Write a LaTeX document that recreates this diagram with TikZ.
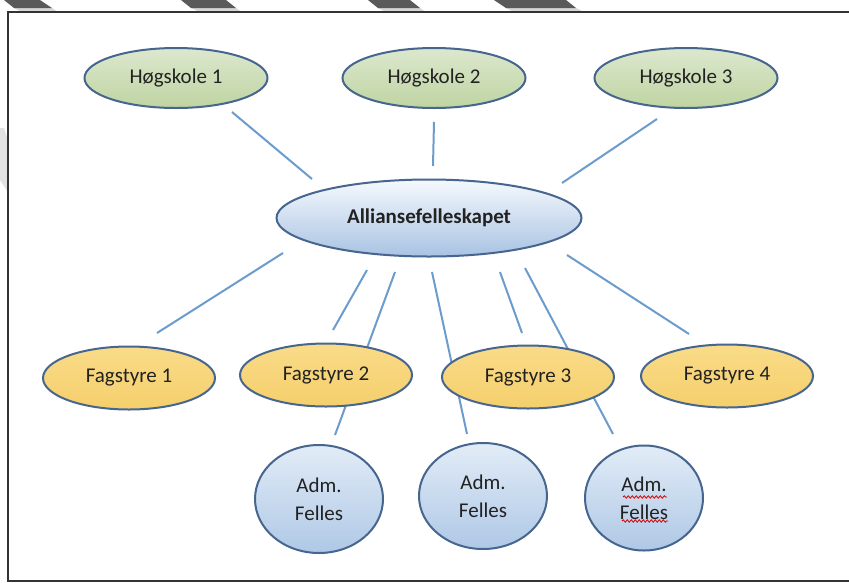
\documentclass[tikz,border=0pt]{standalone}
\usepackage{fontspec}
\setmainfont{Carlito}
\usetikzlibrary{shapes.geometric,decorations.pathmorphing}
\definecolor{edgec}{HTML}{46658F}
\definecolor{linkc}{HTML}{6C9CCD}
\definecolor{txt}{HTML}{222222}
\definecolor{hsTop}{HTML}{DCE8CE}
\definecolor{hsBot}{HTML}{BFD4A2}
\definecolor{alTop}{HTML}{F6F9FD}
\definecolor{alBot}{HTML}{A8C3E3}
\definecolor{fsTop}{HTML}{F9DB88}
\definecolor{fsBot}{HTML}{F5CF6C}
\definecolor{adTop}{HTML}{E2ECF7}
\definecolor{adBot}{HTML}{AFC8E6}
\definecolor{stripeD}{HTML}{5A5A5A}
\definecolor{stripeL}{HTML}{D6D6D6}
\begin{document}
\begin{tikzpicture}[x=1pt,y=-1pt,
  lbl/.style={font=\fontsize{21}{28}\selectfont, text=txt, align=center},
  oval/.style={ellipse, draw=edgec, line width=2pt, inner sep=0pt, lbl},
  hs/.style={oval, top color=hsTop, bottom color=hsBot, minimum width=183pt, minimum height=60pt},
  al/.style={oval, top color=alTop, bottom color=alBot, minimum width=305pt, minimum height=77pt, font=\fontsize{21}{28}\selectfont\bfseries},
  fs/.style={oval, top color=fsTop, bottom color=fsBot, minimum width=172pt, minimum height=63pt},
  ad/.style={oval, top color=adTop, bottom color=adBot},
  link/.style={draw=linkc, line width=2pt},
  frameline/.style={draw=black!80, line width=2pt},
  spell/.style={draw=red!85!black, line width=0.8pt, decorate, decoration={snake, amplitude=1.2pt, segment length=4pt}}]
\useasboundingbox (0,0) rectangle (849,582);
\fill[white] (0,0) rectangle (849,582);

% top stripes
\fill[stripeL] (14,8) -- (52,8) -- (58,12) -- (22,12) -- cycle;
\fill[stripeD] (4,0) -- (40,0) -- (52,8) -- (14,8) -- cycle;
\fill[stripeL] (191,8) -- (236,8) -- (242,12) -- (200,12) -- cycle;
\fill[stripeD] (181,0) -- (226,0) -- (236,8) -- (191,8) -- cycle;
\fill[stripeL] (378,8) -- (420,8) -- (426,12) -- (386,12) -- cycle;
\fill[stripeD] (368,0) -- (410,0) -- (420,8) -- (378,8) -- cycle;
\fill[stripeL] (506,8) -- (576,8) -- (584,12) -- (514,12) -- cycle;
\fill[stripeD] (494,0) -- (566,0) -- (576,8) -- (506,8) -- cycle;
\fill[stripeL!70!white] (0,128) -- (4,128) -- (8,140) -- (8,192) -- (0,180) -- cycle;

% frame
\draw[frameline] (849,12) -- (8,12) -- (8,581) -- (849,581);

% connector end points
\coordinate (h1a) at (232,112); \coordinate (h1b) at (312,179);
\coordinate (h2a) at (434,122); \coordinate (h2b) at (433,166);
\coordinate (h3a) at (657,119); \coordinate (h3b) at (562,183);
\coordinate (f1a) at (283,253); \coordinate (f1b) at (157,333);
\coordinate (f2a) at (367,270); \coordinate (f2b) at (333,330);
\coordinate (a1a) at (395,272); \coordinate (a1b) at (335,435);
\coordinate (a2a) at (432,272); \coordinate (a2b) at (467,434);
\coordinate (f3a) at (500,272); \coordinate (f3b) at (522,333);
\coordinate (a3a) at (525,268); \coordinate (a3b) at (613,434);
\coordinate (f4a) at (567,255); \coordinate (f4b) at (689,334);

\draw[link] (h1a) -- (h1b);
\draw[link] (h2a) -- (h2b);
\draw[link] (h3a) -- (h3b);
\draw[link] (f1a) -- (f1b);
\draw[link] (f2a) -- (f2b);
\draw[link] (a1a) -- (a1b);
\draw[link] (a2a) -- (a2b);
\draw[link] (f3a) -- (f3b);
\draw[link] (a3a) -- (a3b);
\draw[link] (f4a) -- (f4b);

% nodes
\node[hs] (hs1) at (176,78) {Høgskole 1};
\node[hs] (hs2) at (434,78) {Høgskole 2};
\node[hs] (hs3) at (686,78) {Høgskole 3};
\node[al] (all) at (429,218) {Alliansefelleskapet};
\node[fs] (fs1) at (129,378) {Fagstyre 1};
\node[fs] (fs2) at (326,375) {Fagstyre 2};
\node[fs] (fs3) at (528,377) {Fagstyre 3};
\node[fs] (fs4) at (727,376) {Fagstyre 4};
\node[ad, minimum width=128pt, minimum height=108pt] (ad1) at (319,499) {Adm.\\Felles};
\node[ad, minimum width=128pt, minimum height=106pt] (ad2) at (483,496) {Adm.\\Felles};
\node[ad, minimum width=118pt, minimum height=105pt] (ad3) at (644,498) {Adm.\\Felles};

% spell-check marks
\coordinate (sp1a) at (623,497); \coordinate (sp1b) at (667,497);
\coordinate (sp2a) at (622,521); \coordinate (sp2b) at (668,521);
\draw[spell] (sp1a) -- (sp1b);
\draw[spell] (sp2a) -- (sp2b);
\end{tikzpicture}
\end{document}
